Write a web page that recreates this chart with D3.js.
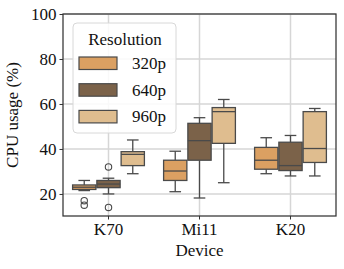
<!DOCTYPE html>
<html>
<head>
<meta charset="utf-8">
<script src="https://cdn.jsdelivr.net/npm/d3@7"></script>
<style>
  body { margin: 0; background: #fff; }
  svg text { font-family: "Liberation Serif", "DejaVu Serif", serif; fill: #111; }
</style>
</head>
<body>
<div id="chart"></div>
<script>
// categories and series
var devices = ["K70", "Mi11", "K20"];
var resolutions = ["320p", "640p", "960p"];
var colors = ["#dba062", "#7b6249", "#dfbd8f"];
var yTicks = [20, 40, 60, 80, 100];

// box stats per device, in resolution order: [whiskerLow, q1, median, q3, whiskerHigh]
var statsK70 = [[21.5, 22, 23, 24, 26], [20, 22.8, 24.4, 26, 27], [29, 32.6, 37.6, 38.8, 44]];
var statsMi11 = [[21, 26, 30.2, 35, 39], [18.2, 35, 43.7, 51.4, 53.9], [25, 42.5, 56.6, 58.4, 62]];
var statsK20 = [[29, 31, 35, 40.7, 45], [28, 30.4, 32.6, 43, 46], [28, 34, 40.2, 56.6, 58]];
var outliersK70 = [[17, 15], [32, 14], []];
var outliersMi11 = [[], [], []];
var outliersK20 = [[], [], []];

var allStats = [statsK70, statsMi11, statsK20];
var allOutliers = [outliersK70, outliersMi11, outliersK20];

var W = 344, H = 269;
var margin = { top: 14, right: 8, bottom: 53, left: 63 };
var width = W - margin.left - margin.right,
    height = H - margin.top - margin.bottom;
var fs = "17px";

var svg = d3.select("#chart").append("svg")
    .attr("width", W)
    .attr("height", H)
    .append("g")
    .attr("transform", "translate(" + margin.left + "," + margin.top + ")");

var x = d3.scaleBand().domain(devices).range([0, width]).padding(0);
var xSub = d3.scaleBand().domain(resolutions).range([x.bandwidth() * 0.1, x.bandwidth() * 0.9]);
var y = d3.scaleLinear().domain([10.2, 100]).range([height, 0]);

// grid
svg.append("g").selectAll("line.hg").data(yTicks).enter().append("line")
    .attr("x1", 0).attr("x2", width)
    .attr("y1", function (d) { return y(d); }).attr("y2", function (d) { return y(d); })
    .style("stroke", "#d6d6d6").style("stroke-width", 1.5);
svg.append("g").selectAll("line.vg").data(devices).enter().append("line")
    .attr("x1", function (d) { return x(d) + x.bandwidth() / 2; })
    .attr("x2", function (d) { return x(d) + x.bandwidth() / 2; })
    .attr("y1", 0).attr("y2", height)
    .style("stroke", "#d6d6d6").style("stroke-width", 1.5);

// boxes
var lineColor = "#4a4a4a";
var boxW = xSub.bandwidth() - 1;
devices.forEach(function (dev, i) {
    resolutions.forEach(function (res, j) {
        var s = allStats[i][j];
        var cx = x(dev) + xSub(res) + xSub.bandwidth() / 2;
        var g = svg.append("g");
        g.append("line").attr("x1", cx).attr("x2", cx).attr("y1", y(s[0])).attr("y2", y(s[1]))
            .style("stroke", lineColor).style("stroke-width", 1.3);
        g.append("line").attr("x1", cx).attr("x2", cx).attr("y1", y(s[3])).attr("y2", y(s[4]))
            .style("stroke", lineColor).style("stroke-width", 1.3);
        [s[0], s[4]].forEach(function (v) {
            g.append("line").attr("x1", cx - boxW / 4).attr("x2", cx + boxW / 4)
                .attr("y1", y(v)).attr("y2", y(v))
                .style("stroke", lineColor).style("stroke-width", 1.3);
        });
        g.append("rect").attr("x", cx - boxW / 2).attr("width", boxW)
            .attr("y", y(s[3])).attr("height", y(s[1]) - y(s[3]))
            .style("fill", colors[j]).style("stroke", lineColor).style("stroke-width", 1.3);
        g.append("line").attr("x1", cx - boxW / 2).attr("x2", cx + boxW / 2)
            .attr("y1", y(s[2])).attr("y2", y(s[2]))
            .style("stroke", lineColor).style("stroke-width", 1.3);
        g.selectAll("circle").data(allOutliers[i][j]).enter().append("circle")
            .attr("cx", cx).attr("cy", function (d) { return y(d); }).attr("r", 3.2)
            .style("fill", "none").style("stroke", lineColor).style("stroke-width", 1.1);
    });
});

// axes
var yAxis = svg.append("g")
    .call(d3.axisLeft(y).tickValues(yTicks).tickSize(3.5).tickPadding(3));
yAxis.selectAll("text").style("font-size", fs);
var xAxis = svg.append("g")
    .attr("transform", "translate(0," + height + ")")
    .call(d3.axisBottom(x).tickSize(3.5).tickPadding(3));
xAxis.selectAll("text").style("font-size", fs);
svg.selectAll(".domain").remove();
svg.selectAll(".tick line").style("stroke", "#333");

// frame
svg.append("rect").attr("width", width).attr("height", height)
    .style("fill", "none").style("stroke", "#333").style("stroke-width", 1.25);

// axis titles
svg.append("text").attr("x", width / 2).attr("y", height + 40)
    .attr("text-anchor", "middle").style("font-size", fs).text("Device");
svg.append("text").attr("transform", "translate(-45," + (height / 2) + ")rotate(-90)")
    .attr("text-anchor", "middle").style("font-size", fs).text("CPU usage (%)");

// legend
var leg = svg.append("g").attr("transform", "translate(10,9)");
leg.append("rect").attr("width", 103).attr("height", 110).attr("rx", 4)
    .style("fill", "rgba(255,255,255,0.85)").style("stroke", "#d8d8d8").style("stroke-width", 1);
leg.append("text").attr("x", 52).attr("y", 22).attr("text-anchor", "middle")
    .style("font-size", fs).text("Resolution");
resolutions.forEach(function (res, j) {
    var ly = 34 + j * 26.7;
    leg.append("rect").attr("x", 6).attr("y", ly).attr("width", 38).attr("height", 12.5)
        .style("fill", colors[j]).style("stroke", lineColor).style("stroke-width", 1.2);
    leg.append("text").attr("x", 59).attr("y", ly + 12).style("font-size", fs).text(res);
});
</script>
</body>
</html>
